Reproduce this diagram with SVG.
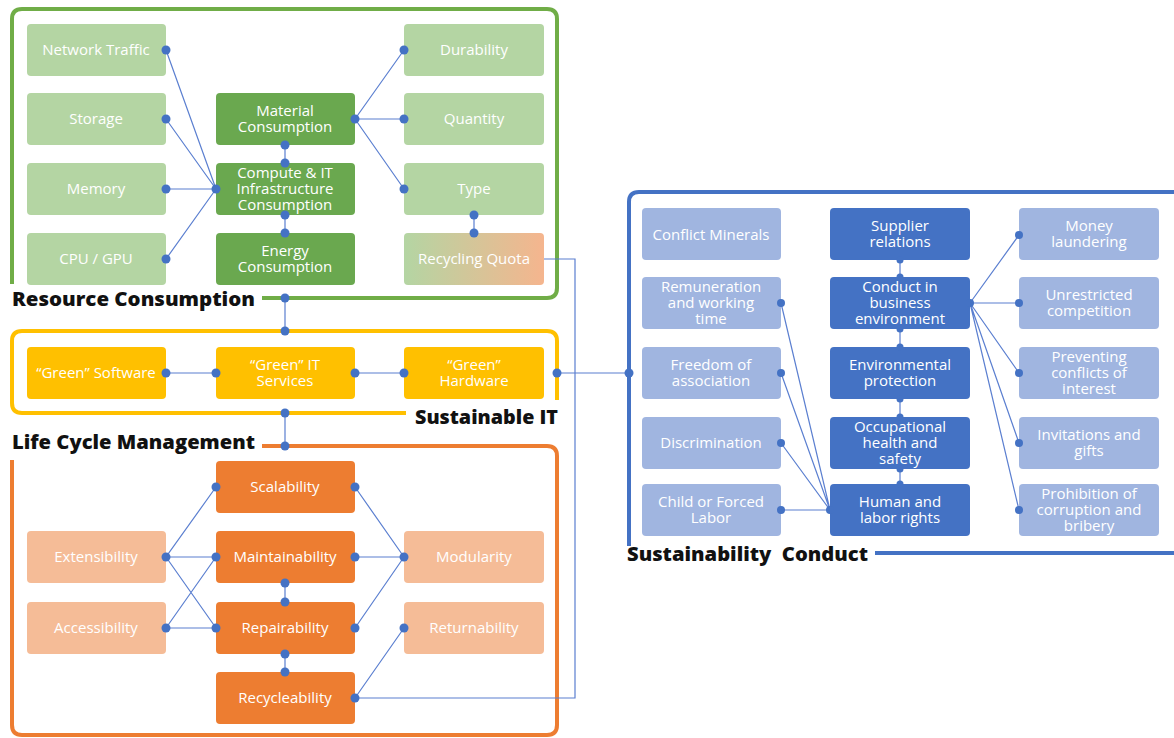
<svg xmlns="http://www.w3.org/2000/svg" width="1174" height="738" viewBox="0 0 1174 738">
<defs>
<linearGradient id="rq" x1="0" y1="0" x2="1" y2="0">
<stop offset="0" stop-color="#b4d5a3"/>
<stop offset="1" stop-color="#f5b58e"/>
</linearGradient>
<style>
.t{font-family:"Open Sans","Liberation Sans",sans-serif;font-size:15px;fill:#ffffff;text-anchor:middle}
.h{font-family:"Open Sans","Liberation Sans",sans-serif;font-size:20px;font-weight:800;fill:#111111;white-space:pre}
.dg{fill:#6aa84f}.lg{fill:#b4d5a3}.y{fill:#ffc000}.do{fill:#ed7d31}.lo{fill:#f5bc97}.db{fill:#4472c4}.lb{fill:#a0b5e0}
.fr{fill:none;stroke-width:4;stroke-linecap:butt}
.c{fill:none;stroke:#5b7fd0;stroke-width:1.2}
.d{fill:#4472c4}
</style>
</defs>
<rect width="1174" height="738" fill="#ffffff"/>

<!-- frames -->
<g id="frames">
<path class="fr" stroke="#70ad47" d="M12 284 V19 Q12 9 22 9 H547 Q557 9 557 19 V288 Q557 298 547 298 H262"/>
<path class="fr" stroke="#ffc000" d="M557 400 V341 Q557 331 547 331 H22 Q12 331 12 341 V403 Q12 413 22 413 H406"/>
<path class="fr" stroke="#ed7d31" d="M262 446 H547 Q557 446 557 456 V725 Q557 735 547 735 H22 Q12 735 12 725 V460"/>
<path class="fr" stroke="#4472c4" d="M629 546 V202 Q629 192 639 192 H1176"/>
<path class="fr" stroke="#4472c4" d="M875 553 H1176"/>
<text class="h" x="12" y="306" textLength="243" lengthAdjust="spacingAndGlyphs">Resource Consumption</text>
<text class="h" x="415" y="424" textLength="143" lengthAdjust="spacingAndGlyphs">Sustainable IT</text>
<text class="h" x="12" y="449" textLength="243" lengthAdjust="spacingAndGlyphs">Life Cycle Management</text>
<text class="h" x="627" y="561" textLength="241" lengthAdjust="spacingAndGlyphs">Sustainability  Conduct</text>
</g>

<!-- connectors -->
<g id="connectors">
<path class="c" d="M166 50 L216 189 M166 119 L216 189 M166 189 L216 189 M166 259 L216 189"/>
<path class="c" d="M355 119 L404 50 M355 119 L404 119 M355 119 L404 189"/>
<path class="c" d="M285 145 V163 M285 215 V233 M474 215 V233"/>
<path class="c" d="M544 259 H575 V698 H355"/>
<path class="c" d="M285 298 V331 M285 413 V446"/>
<path class="c" d="M166 373 H216 M355 373 H404 M557 373 H629"/>
<path class="c" d="M216 487 L166 557 L216 557 M166 557 L216 628 M166 628 L216 557 M166 628 L216 628"/>
<path class="c" d="M355 487 L404 557 M355 557 L404 557 M355 628 L404 557 M355 698 L404 628"/>
<path class="c" d="M285 583 V601 M285 654 V672"/>
<path class="c" d="M900 260 V277 M900 329 V347 M900 399 V417 M900 469 V484"/>
<path class="c" d="M970 303 L1019 235 M970 303 L1019 303 M970 303 L1019 373 M970 303 L1019 443 M970 303 L1019 510"/>
<path class="c" d="M781 303 L830 510 M781 373 L830 510 M781 443 L830 510 M781 510 L830 510"/>
</g>

<!-- Resource Consumption nodes -->
<g id="network-traffic"><rect class="lg" x="27" y="24" width="139" height="52" rx="4"/><text class="t" x="96" y="55">Network Traffic</text></g>
<g id="storage"><rect class="lg" x="27" y="93" width="139" height="52" rx="4"/><text class="t" x="96" y="124">Storage</text></g>
<g id="memory"><rect class="lg" x="27" y="163" width="139" height="52" rx="4"/><text class="t" x="96" y="194">Memory</text></g>
<g id="cpu-gpu"><rect class="lg" x="27" y="233" width="139" height="52" rx="4"/><text class="t" x="96" y="264">CPU / GPU</text></g>
<g id="material"><rect class="dg" x="216" y="93" width="139" height="52" rx="4"/><text class="t" x="285" y="116">Material</text><text class="t" x="285" y="132">Consumption</text></g>
<g id="compute"><rect class="dg" x="216" y="163" width="139" height="52" rx="4"/><text class="t" x="285" y="178">Compute &amp; IT</text><text class="t" x="285" y="194">Infrastructure</text><text class="t" x="285" y="210">Consumption</text></g>
<g id="energy"><rect class="dg" x="216" y="233" width="139" height="52" rx="4"/><text class="t" x="285" y="256">Energy</text><text class="t" x="285" y="272">Consumption</text></g>
<g id="durability"><rect class="lg" x="404" y="24" width="140" height="52" rx="4"/><text class="t" x="474" y="55">Durability</text></g>
<g id="quantity"><rect class="lg" x="404" y="93" width="140" height="52" rx="4"/><text class="t" x="474" y="124">Quantity</text></g>
<g id="type"><rect class="lg" x="404" y="163" width="140" height="52" rx="4"/><text class="t" x="474" y="194">Type</text></g>
<g id="recycling-quota"><rect fill="url(#rq)" x="404" y="233" width="140" height="52" rx="4"/><text class="t" x="474" y="264">Recycling Quota</text></g>

<!-- Sustainable IT nodes -->
<g id="green-software"><rect class="y" x="27" y="347" width="139" height="52" rx="4"/><text class="t" x="96" y="378">“Green” Software</text></g>
<g id="green-it-services"><rect class="y" x="216" y="347" width="139" height="52" rx="4"/><text class="t" x="285" y="370">“Green” IT</text><text class="t" x="285" y="386">Services</text></g>
<g id="green-hardware"><rect class="y" x="404" y="347" width="140" height="52" rx="4"/><text class="t" x="474" y="370">“Green”</text><text class="t" x="474" y="386">Hardware</text></g>

<!-- Life Cycle nodes -->
<g id="scalability"><rect class="do" x="216" y="461" width="139" height="52" rx="4"/><text class="t" x="285" y="492">Scalability</text></g>
<g id="maintainability"><rect class="do" x="216" y="531" width="139" height="52" rx="4"/><text class="t" x="285" y="562">Maintainability</text></g>
<g id="repairability"><rect class="do" x="216" y="602" width="139" height="52" rx="4"/><text class="t" x="285" y="633">Repairability</text></g>
<g id="recycleability"><rect class="do" x="216" y="672" width="139" height="52" rx="4"/><text class="t" x="285" y="703">Recycleability</text></g>
<g id="extensibility"><rect class="lo" x="27" y="531" width="139" height="52" rx="4"/><text class="t" x="96" y="562">Extensibility</text></g>
<g id="accessibility"><rect class="lo" x="27" y="602" width="139" height="52" rx="4"/><text class="t" x="96" y="633">Accessibility</text></g>
<g id="modularity"><rect class="lo" x="404" y="531" width="140" height="52" rx="4"/><text class="t" x="474" y="562">Modularity</text></g>
<g id="returnability"><rect class="lo" x="404" y="602" width="140" height="52" rx="4"/><text class="t" x="474" y="633">Returnability</text></g>

<!-- Sustainability Conduct nodes -->
<g id="conflict-minerals"><rect class="lb" x="642" y="208" width="139" height="52" rx="4"/><text class="t" x="711" y="240">Conflict Minerals</text></g>
<g id="remuneration"><rect class="lb" x="642" y="277" width="139" height="52" rx="4"/><text class="t" x="711" y="292">Remuneration</text><text class="t" x="711" y="308">and working</text><text class="t" x="711" y="324">time</text></g>
<g id="freedom"><rect class="lb" x="642" y="347" width="139" height="52" rx="4"/><text class="t" x="711" y="370">Freedom of</text><text class="t" x="711" y="386">association</text></g>
<g id="discrimination"><rect class="lb" x="642" y="417" width="139" height="52" rx="4"/><text class="t" x="711" y="448">Discrimination</text></g>
<g id="child-labor"><rect class="lb" x="642" y="484" width="139" height="52" rx="4"/><text class="t" x="711" y="507">Child or Forced</text><text class="t" x="711" y="523">Labor</text></g>
<g id="supplier"><rect class="db" x="830" y="208" width="140" height="52" rx="4"/><text class="t" x="900" y="231">Supplier</text><text class="t" x="900" y="247">relations</text></g>
<g id="conduct-business"><rect class="db" x="830" y="277" width="140" height="52" rx="4"/><text class="t" x="900" y="292">Conduct in</text><text class="t" x="900" y="308">business</text><text class="t" x="900" y="324">environment</text></g>
<g id="environmental"><rect class="db" x="830" y="347" width="140" height="52" rx="4"/><text class="t" x="900" y="370">Environmental</text><text class="t" x="900" y="386">protection</text></g>
<g id="occupational"><rect class="db" x="830" y="417" width="140" height="52" rx="4"/><text class="t" x="900" y="432">Occupational</text><text class="t" x="900" y="448">health and</text><text class="t" x="900" y="464">safety</text></g>
<g id="human-rights"><rect class="db" x="830" y="484" width="140" height="52" rx="4"/><text class="t" x="900" y="507">Human and</text><text class="t" x="900" y="523">labor rights</text></g>
<g id="money-laundering"><rect class="lb" x="1019" y="208" width="140" height="52" rx="4"/><text class="t" x="1089" y="231">Money</text><text class="t" x="1089" y="247">laundering</text></g>
<g id="unrestricted"><rect class="lb" x="1019" y="277" width="140" height="52" rx="4"/><text class="t" x="1089" y="300">Unrestricted</text><text class="t" x="1089" y="316">competition</text></g>
<g id="preventing"><rect class="lb" x="1019" y="347" width="140" height="52" rx="4"/><text class="t" x="1089" y="362">Preventing</text><text class="t" x="1089" y="378">conflicts of</text><text class="t" x="1089" y="394">interest</text></g>
<g id="invitations"><rect class="lb" x="1019" y="417" width="140" height="52" rx="4"/><text class="t" x="1089" y="440">Invitations and</text><text class="t" x="1089" y="456">gifts</text></g>
<g id="prohibition"><rect class="lb" x="1019" y="484" width="140" height="52" rx="4"/><text class="t" x="1089" y="499">Prohibition of</text><text class="t" x="1089" y="515">corruption and</text><text class="t" x="1089" y="531">bribery</text></g>

<!-- dots -->
<g id="dots">
<circle class="d" cx="166" cy="50" r="4.5"/><circle class="d" cx="166" cy="119" r="4.5"/><circle class="d" cx="166" cy="189" r="4.5"/><circle class="d" cx="166" cy="259" r="4.5"/>
<circle class="d" cx="216" cy="189" r="4.5"/><circle class="d" cx="355" cy="119" r="4.5"/>
<circle class="d" cx="404" cy="50" r="4.5"/><circle class="d" cx="404" cy="119" r="4.5"/><circle class="d" cx="404" cy="189" r="4.5"/>
<circle class="d" cx="285" cy="145" r="4.5"/><circle class="d" cx="285" cy="163" r="4.5"/><circle class="d" cx="285" cy="215" r="4.5"/><circle class="d" cx="285" cy="233" r="4.5"/>
<circle class="d" cx="474" cy="215" r="4.5"/><circle class="d" cx="474" cy="233" r="4.5"/>
<circle class="d" cx="285" cy="298" r="4.5"/><circle class="d" cx="285" cy="331" r="4.5"/><circle class="d" cx="285" cy="413" r="4.5"/><circle class="d" cx="285" cy="446" r="4.5"/>
<circle class="d" cx="166" cy="373" r="4.5"/><circle class="d" cx="216" cy="373" r="4.5"/><circle class="d" cx="355" cy="373" r="4.5"/><circle class="d" cx="404" cy="373" r="4.5"/><circle class="d" cx="557" cy="373" r="4.5"/><circle class="d" cx="629" cy="373" r="4.5"/>
<circle class="d" cx="216" cy="487" r="4.5"/><circle class="d" cx="355" cy="487" r="4.5"/>
<circle class="d" cx="166" cy="557" r="4.5"/><circle class="d" cx="216" cy="557" r="4.5"/><circle class="d" cx="355" cy="557" r="4.5"/><circle class="d" cx="404" cy="557" r="4.5"/>
<circle class="d" cx="166" cy="628" r="4.5"/><circle class="d" cx="216" cy="628" r="4.5"/><circle class="d" cx="355" cy="628" r="4.5"/><circle class="d" cx="404" cy="628" r="4.5"/>
<circle class="d" cx="285" cy="583" r="4.5"/><circle class="d" cx="285" cy="602" r="4.5"/><circle class="d" cx="285" cy="654" r="4.5"/><circle class="d" cx="285" cy="672" r="4.5"/>
<circle class="d" cx="355" cy="698" r="4.5"/>
<circle class="d" cx="900" cy="260" r="3.5"/><circle class="d" cx="900" cy="277" r="3.5"/><circle class="d" cx="900" cy="329" r="3.5"/><circle class="d" cx="900" cy="347" r="3.5"/>
<circle class="d" cx="900" cy="399" r="3.5"/><circle class="d" cx="900" cy="417" r="3.5"/><circle class="d" cx="900" cy="469" r="3.5"/><circle class="d" cx="900" cy="484" r="3.5"/>
<circle class="d" cx="970" cy="303" r="4"/>
<circle class="d" cx="1019" cy="235" r="4"/><circle class="d" cx="1019" cy="303" r="4"/><circle class="d" cx="1019" cy="373" r="4"/><circle class="d" cx="1019" cy="443" r="4"/><circle class="d" cx="1019" cy="510" r="4"/>
<circle class="d" cx="781" cy="303" r="4"/><circle class="d" cx="781" cy="373" r="4"/><circle class="d" cx="781" cy="443" r="4"/><circle class="d" cx="781" cy="510" r="4"/>
<circle class="d" cx="830" cy="510" r="4"/>
</g>
</svg>
